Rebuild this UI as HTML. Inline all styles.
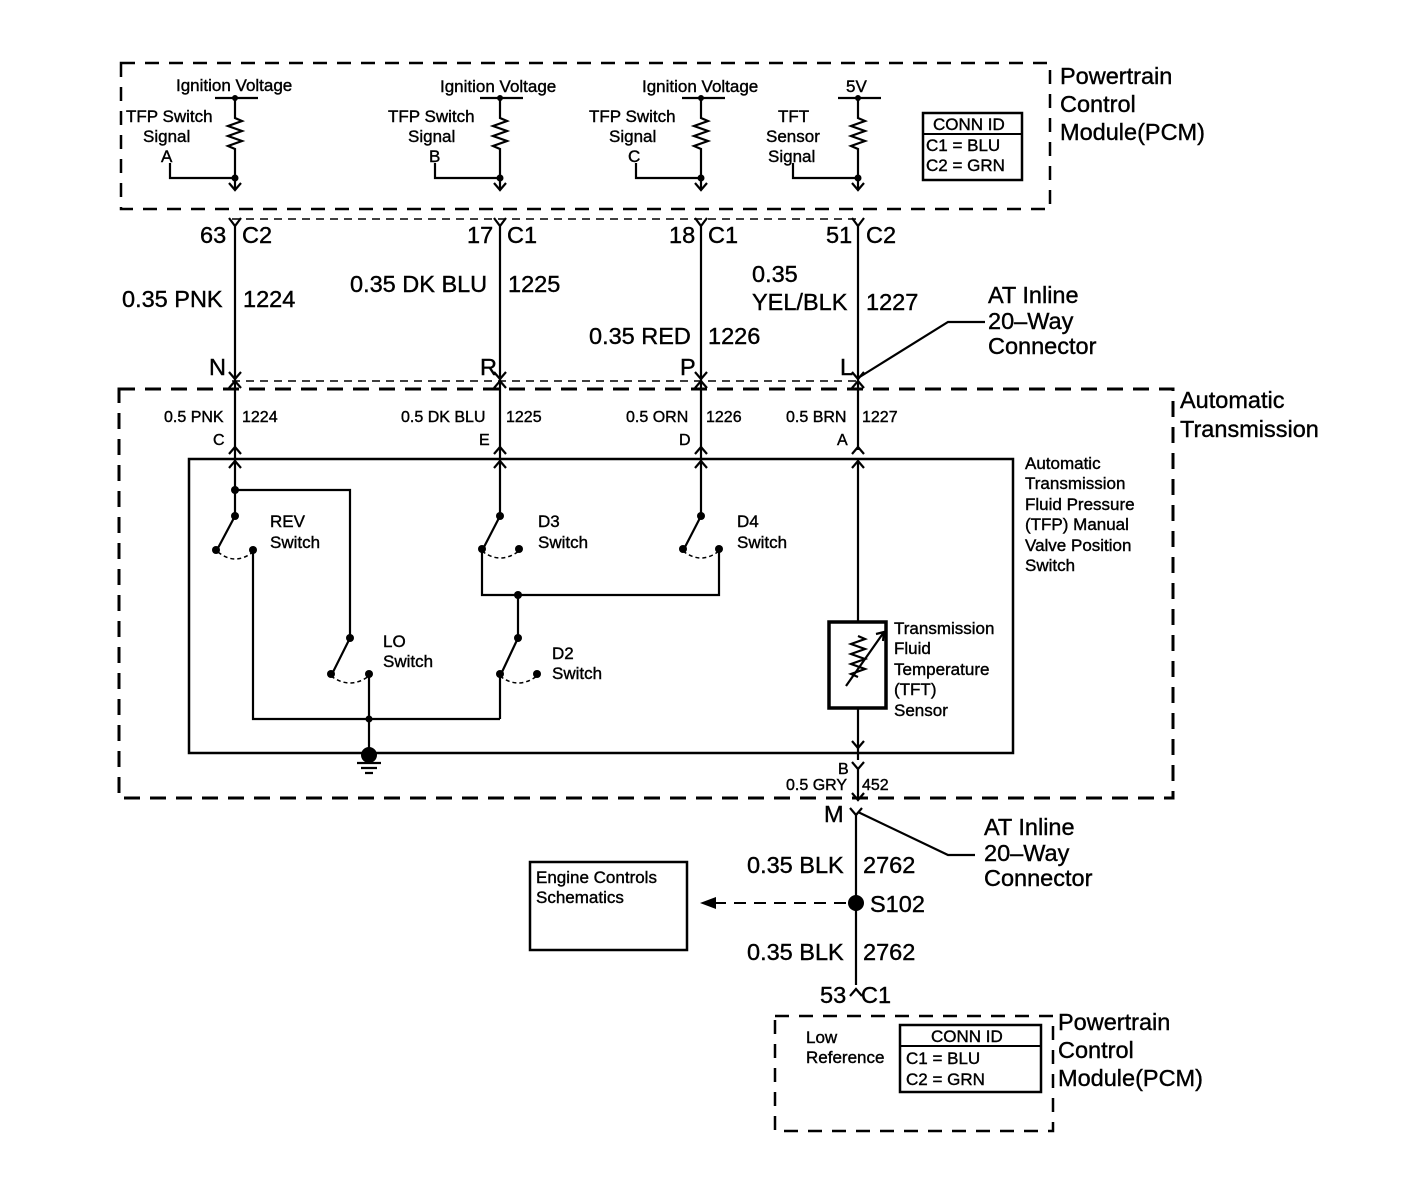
<!DOCTYPE html>
<html><head><style>html,body{margin:0;padding:0;background:#fff}svg{display:block}</style></head><body>
<svg width="1408" height="1204" viewBox="0 0 1408 1204" xmlns="http://www.w3.org/2000/svg" font-family="Liberation Sans, Arial, sans-serif" fill="#000">
<g fill="none" stroke="#000" stroke-width="2.5">
<rect x="121" y="63" width="929" height="146" stroke-dasharray="14,10"/>
<line x1="232" y1="219" x2="862" y2="219" stroke-width="1.5" stroke-dasharray="8,6"/>
<rect x="119" y="389" width="1054" height="409" stroke-width="3" stroke-dasharray="16,10"/>
<line x1="232" y1="381" x2="862" y2="381" stroke-width="1.5" stroke-dasharray="8,6"/>
<rect x="189" y="459" width="824" height="294" stroke-width="2.5"/>
<rect x="923" y="113" width="99" height="67"/>
<line x1="923" y1="134" x2="1022" y2="134" stroke-width="2"/>
<rect x="775" y="1016" width="278" height="115" stroke-dasharray="14,10"/>
<rect x="900" y="1025" width="141" height="67"/>
<line x1="900" y1="1046" x2="1041" y2="1046" stroke-width="2"/>
<rect x="530" y="862" width="157" height="88"/>
<rect x="829" y="622" width="57" height="86" stroke-width="3.5"/>
</g>
<g fill="none" stroke="#000" stroke-width="2.2">
<line x1="215" y1="98" x2="258" y2="98"/><path d="M235 98V118l7 3-14 5 14 5-14 5 14 5-14 5 7 3V190"/><path d="M170 163V178H235"/><path d="M229 183l6 7 6-7"/>
<line x1="480" y1="98" x2="523" y2="98"/><path d="M500 98V118l7 3-14 5 14 5-14 5 14 5-14 5 7 3V190"/><path d="M435 163V178H500"/><path d="M494 183l6 7 6-7"/>
<line x1="682" y1="98" x2="725" y2="98"/><path d="M701 98V118l7 3-14 5 14 5-14 5 14 5-14 5 7 3V190"/><path d="M636 163V178H701"/><path d="M695 183l6 7 6-7"/>
<line x1="838" y1="98" x2="881" y2="98"/><path d="M858 98V118l7 3-14 5 14 5-14 5 14 5-14 5 7 3V190"/><path d="M793 163V178H858"/><path d="M852 183l6 7 6-7"/>
<path d="M229 218l6 8 6-8M235 226V450"/>
<path d="M494 218l6 8 6-8M500 226V450"/>
<path d="M695 218l6 8 6-8M701 226V450"/>
<path d="M852 218l6 8 6-8M858 226V450"/>
<path d="M229 372l6 7 6-7M229 388l6-7 6 7"/>
<path d="M494 372l6 7 6-7M494 388l6-7 6 7"/>
<path d="M695 372l6 7 6-7M695 388l6-7 6 7"/>
<path d="M852 372l6 7 6-7M852 388l6-7 6 7"/>
<path d="M229 454l6-7 6 7M229 468l6-7 6 7"/>
<path d="M494 454l6-7 6 7M494 468l6-7 6 7"/>
<path d="M695 454l6-7 6 7M695 468l6-7 6 7"/>
<path d="M852 454l6-7 6 7M852 468l6-7 6 7"/>
<path d="M235 450V516M235 490H350V638"/>
<path d="M235 516L218 548"/>
<path d="M253 550V719H500"/>
<path d="M350 638L333 672"/><path d="M369 674V755"/>
<path d="M500 450V516L484 547"/><path d="M482 549V595H719V549"/>
<path d="M701 450V516L685 547"/>
<path d="M518 595V638L502 672"/><path d="M500 674V719"/>
<path d="M858 460V622M858 708V760"/>
<path d="M858 636l7 3-14 5 14 5-14 5 14 5-14 5 14 5-14 5 7 3"/>
<path d="M846 686L884 632M876 634l8-2-1 9"/>
<path d="M852 741l6 7 6-7"/>
<path d="M852 762l6 7 6-7M858 769V800M852 793l6 7 6-7"/>
<path d="M850 808l6 7 6-7M856 815V985"/>
<path d="M850 996l6-7 6 7"/>
<path d="M858 378L948 322H985"/>
<path d="M858 812L948 855H975"/>
<path d="M357 763H381M361 768H377M365 773H373"/>
</g>
<g fill="none" stroke="#000" stroke-width="1.5" stroke-dasharray="4,3">
<path d="M218 552Q235 566 253 552"/><path d="M331 676Q350 690 369 676"/>
<path d="M482 551Q500 565 519 551"/><path d="M683 551Q701 565 719 551"/>
<path d="M500 676Q518 690 537 676"/>
<path d="M846 903H712" stroke-width="2" stroke-dasharray="12,8"/>
</g>
<path d="M700 903L716 897V909Z"/>
<g>
<circle cx="235" cy="98" r="3"/><circle cx="500" cy="98" r="3"/><circle cx="701" cy="98" r="3"/><circle cx="858" cy="98" r="3"/>
<circle cx="235" cy="178" r="3.5"/><circle cx="500" cy="178" r="3.5"/><circle cx="701" cy="178" r="3.5"/><circle cx="858" cy="178" r="3.5"/>
<circle cx="235" cy="490" r="4"/><circle cx="235" cy="516" r="4"/><circle cx="216" cy="550" r="4"/><circle cx="253" cy="550" r="4"/>
<circle cx="350" cy="638" r="4"/><circle cx="331" cy="674" r="4"/><circle cx="369" cy="674" r="4"/><circle cx="369" cy="719" r="3.5"/>
<circle cx="500" cy="516" r="4"/><circle cx="482" cy="549" r="4"/><circle cx="519" cy="549" r="4"/>
<circle cx="701" cy="516" r="4"/><circle cx="683" cy="549" r="4"/><circle cx="719" cy="549" r="4"/>
<circle cx="518" cy="595" r="4"/><circle cx="518" cy="638" r="4"/><circle cx="500" cy="674" r="4"/><circle cx="537" cy="674" r="4"/>
<circle cx="369" cy="755" r="8"/><circle cx="856" cy="903" r="8"/>
</g>
<g font-size="17" stroke="#000" stroke-width="0.4">
<text x="176" y="91">Ignition Voltage</text>
<text x="440" y="92">Ignition Voltage</text>
<text x="642" y="92">Ignition Voltage</text>
<text x="846" y="92">5V</text>
<text x="126" y="122">TFP Switch</text><text x="143" y="142">Signal</text><text x="161" y="162">A</text>
<text x="388" y="122">TFP Switch</text><text x="408" y="142">Signal</text><text x="429" y="162">B</text>
<text x="589" y="122">TFP Switch</text><text x="609" y="142">Signal</text><text x="628" y="162">C</text>
<text x="778" y="122">TFT</text><text x="766" y="142">Sensor</text><text x="768" y="162">Signal</text>
<text x="933" y="130">CONN ID</text><text x="926" y="151">C1 = BLU</text><text x="926" y="171">C2 = GRN</text>
<text x="931" y="1042">CONN ID</text><text x="906" y="1064">C1 = BLU</text><text x="906" y="1085">C2 = GRN</text>
<text x="806" y="1043">Low</text><text x="806" y="1063">Reference</text>
<text x="536" y="883">Engine Controls</text><text x="536" y="903">Schematics</text>
<text x="270" y="527">REV</text><text x="270" y="548">Switch</text>
<text x="538" y="527">D3</text><text x="538" y="548">Switch</text>
<text x="737" y="527">D4</text><text x="737" y="548">Switch</text>
<text x="383" y="647">LO</text><text x="383" y="667">Switch</text>
<text x="552" y="659">D2</text><text x="552" y="679">Switch</text>
<text x="1025" y="469">Automatic</text><text x="1025" y="489">Transmission</text><text x="1025" y="510">Fluid Pressure</text><text x="1025" y="530">(TFP) Manual</text><text x="1025" y="551">Valve Position</text><text x="1025" y="571">Switch</text>
<text x="894" y="634">Transmission</text><text x="894" y="654">Fluid</text><text x="894" y="675">Temperature</text><text x="894" y="695">(TFT)</text><text x="894" y="716">Sensor</text>
</g>
<g font-size="16" stroke="#000" stroke-width="0.4">
<text x="164" y="422">0.5 PNK</text><text x="242" y="422">1224</text>
<text x="401" y="422">0.5 DK BLU</text><text x="506" y="422">1225</text>
<text x="626" y="422">0.5 ORN</text><text x="706" y="422">1226</text>
<text x="786" y="422">0.5 BRN</text><text x="862" y="422">1227</text>
<text x="213" y="445">C</text><text x="479" y="445">E</text><text x="679" y="445">D</text><text x="837" y="445">A</text>
<text x="838" y="774">B</text>
<text x="786" y="790">0.5 GRY</text><text x="862" y="790">452</text>
</g>
<g font-size="23.5" stroke="#000" stroke-width="0.4">
<text x="200" y="243">63</text><text x="242" y="243">C2</text>
<text x="467" y="243">17</text><text x="507" y="243">C1</text>
<text x="669" y="243">18</text><text x="708" y="243">C1</text>
<text x="826" y="243">51</text><text x="866" y="243">C2</text>
<text x="122" y="307">0.35 PNK</text><text x="243" y="307">1224</text>
<text x="350" y="292">0.35 DK BLU</text><text x="508" y="292">1225</text>
<text x="589" y="344">0.35 RED</text><text x="708" y="344">1226</text>
<text x="752" y="282">0.35</text><text x="752" y="310">YEL/BLK</text><text x="866" y="310">1227</text>
<text x="209" y="375">N</text><text x="480" y="375">R</text><text x="680" y="375">P</text><text x="840" y="375">L</text>
<text x="824" y="822">M</text>
<text x="747" y="873">0.35 BLK</text><text x="863" y="873">2762</text>
<text x="870" y="912">S102</text>
<text x="747" y="960">0.35 BLK</text><text x="863" y="960">2762</text>
<text x="820" y="1003">53</text><text x="861" y="1003">C1</text>
<text x="988" y="303">AT Inline</text><text x="988" y="329">20–Way</text><text x="988" y="354">Connector</text>
<text x="984" y="835">AT Inline</text><text x="984" y="861">20–Way</text><text x="984" y="886">Connector</text>
<text x="1060" y="84">Powertrain</text><text x="1060" y="112">Control</text><text x="1060" y="140">Module(PCM)</text>
<text x="1180" y="408">Automatic</text><text x="1180" y="437">Transmission</text>
<text x="1058" y="1030">Powertrain</text><text x="1058" y="1058">Control</text><text x="1058" y="1086">Module(PCM)</text>
</g>
</svg>
</body></html>
